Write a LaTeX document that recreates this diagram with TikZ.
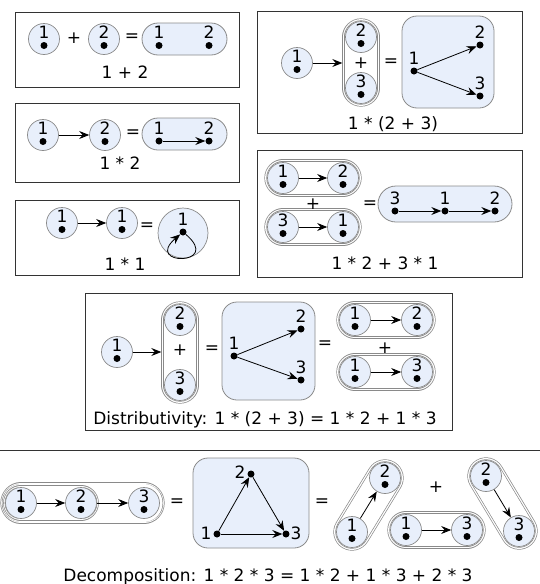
\documentclass[tikz,border=0pt]{standalone}
\usepackage{fontspec}
\setmainfont{DejaVu Sans}
\usetikzlibrary{arrows.meta,calc}
\pgfdeclarelayer{bg}
\pgfsetlayers{bg,main}
\definecolor{vfill}{HTML}{E8EFFB}
\definecolor{vline}{HTML}{8A8A8A}
\definecolor{frame}{HTML}{333333}
\newcommand{\myfs}{\fontsize{17}{20}\selectfont}
\tikzset{
 vc/.style={circle, draw=vline, fill=vfill, minimum size=31pt, inner sep=0pt, line width=0.7pt},
 dig/.style={inner sep=0pt, text height=12.4pt, text depth=0pt, font=\myfs},
 dotn/.style={circle, fill=black, minimum size=7pt, inner sep=0pt},
 arr/.style={-{Stealth[length=10pt,width=8pt,inset=3.5pt]}, line width=0.8pt},
 op/.style={inner sep=0pt, font=\myfs},
 capn/.style={inner sep=0pt, text height=12.4pt, text depth=0pt, font=\myfs},
 frm/.style={draw=frame, line width=1pt},
 bbox/.style={draw=vline, fill=vfill, line width=0.8pt, rounded corners=15pt},
}
\newcommand{\vx}[3]{%
 \node[vc] (#1) at (#2) {};
 \node[dig] (#1l) at ($(#1)+(0,-7)$) {#3};
 \node[dotn] (#1d) at ($(#1)+(0,6.5)$) {};
}
\newcommand{\dv}[3]{%
 \node[dotn] (#1) at (#2) {};
 \node[dig] (#1l) at ($(#1)+(0,-13)$) {#3};
}
\newcommand{\dpill}[4]{%
 \begin{pgfonlayer}{bg}
 \draw[line cap=round, vline, line width=2*#4pt+0.7pt] (#1) -- (#2);
 \draw[line cap=round, white, line width=2*#4pt-0.7pt] (#1) -- (#2);
 \draw[line cap=round, vline, line width=2*#3pt+0.7pt] (#1) -- (#2);
 \draw[line cap=round, white, line width=2*#3pt-0.7pt] (#1) -- (#2);
 \end{pgfonlayer}
}
\begin{document}
\begin{tikzpicture}[x=1pt,y=-1pt]
\useasboundingbox (0,0) rectangle (540,584);
% ---------- box 1: 1 + 2
\draw[frm] (15,12) rectangle (239,87);
\vx{a1}{44,39}{1}
\node[op] (aplus) at (74,38) {+};
\vx{a2}{104,39}{2}
\node[op] (aeq) at (132,38) {=};
\draw[bbox, rounded corners=16pt] (142,23) rectangle (227,55);
\dv{ad1}{159,45.5}{1}
\dv{ad2}{209,45.5}{2}
\node[capn] (acap) at (125,72) {1 + 2};
% ---------- box 2: 1 * 2
\draw[frm] (15,103) rectangle (239,182);
\vx{b1}{43,135}{1}
\vx{b2}{105,135}{2}
\draw[arr] (b1) -- (b2);
\node[op] (beq) at (133,134) {=};
\draw[bbox, rounded corners=16pt] (142,118) rectangle (227,150);
\dv{bd1}{159,141}{1}
\dv{bd2}{209,141}{2}
\draw[arr] (bd1) -- (bd2);
\node[capn] (bcap) at (120,163) {1 * 2};
% ---------- box 3: 1 * 1
\draw[frm] (15,200) rectangle (239,275);
\vx{c1}{62,223}{1}
\vx{c2}{122,223}{1}
\draw[arr] (c1) -- (c2);
\node[op] (ceq) at (147,227) {=};
\node[vc, minimum size=50pt] (cbig) at (183,233) {};
\node[dotn] (cd) at (183,232) {};
\node[dig] (cdl) at (183,219) {1};
\draw[arr] (cd) .. controls +(40,34) and +(-40,34) .. (cd);
\node[capn] (ccap) at (125,264) {1 * 1};
% ---------- box 4: 1 * (2 + 3)
\draw[frm] (257,11) rectangle (522,133);
\vx{d1}{297,63}{1}
\vx{d2}{361,37}{2}
\vx{d3}{361,88}{3}
\dpill{d2.center}{d3.center}{16.3}{18.3}
\node[op] (dplus) at (361,63) {+};
\coordinate (dL) at (342.3,63);
\draw[arr] (d1) -- (dL);
\node[op] (deq) at (391,63) {=};
\draw[bbox] (402,16) rectangle (494,108);
\dv{dd1}{414,71}{1}
\dv{dd2}{480,45}{2}
\dv{dd3}{480,96}{3}
\draw[arr] (dd1) -- (dd2);
\draw[arr] (dd1) -- (dd3);
\node[capn] (dcap) at (393,123) {1 * (2 + 3)};
% ---------- box 5: 1 * 2 + 3 * 1
\draw[frm] (257,150) rectangle (522,277);
\vx{e1}{283,178}{1}
\vx{e2}{343,178}{2}
\dpill{e1.center}{e2.center}{16.3}{18.3}
\draw[arr] (e1) -- (e2);
\node[op] (eplus) at (313,204) {+};
\vx{e3}{283,227}{3}
\vx{e4}{343,227}{1}
\dpill{e3.center}{e4.center}{16.3}{18.3}
\draw[arr] (e3) -- (e4);
\node[op] (eeq) at (370,205) {=};
\draw[bbox, rounded corners=18pt] (378,186) rectangle (512,222);
\dv{ed3}{395,211}{3}
\dv{ed1}{445,211}{1}
\dv{ed2}{495,211}{2}
\draw[arr] (ed3) -- (ed1);
\draw[arr] (ed1) -- (ed2);
\node[capn] (ecap) at (385,263) {1 * 2 + 3 * 1};
% ---------- box 6: distributivity
\draw[frm] (85,293) rectangle (452,430);
\vx{f1}{117,352}{1}
\vx{f2}{180,320}{2}
\vx{f3}{180,385}{3}
\dpill{f2.center}{f3.center}{16.3}{18.3}
\node[op] (fplus) at (180,350) {+};
\coordinate (fL) at (161.3,352);
\draw[arr] (f1) -- (fL);
\node[op] (feq) at (212,350) {=};
\draw[bbox] (222,302) rectangle (315,400);
\dv{fd1}{234,356}{1}
\dv{fd2}{301,329}{2}
\dv{fd3}{301,380}{3}
\draw[arr] (fd1) -- (fd2);
\draw[arr] (fd1) -- (fd3);
\node[op] (feqb) at (325,345) {=};
\vx{f4}{355,320}{1}
\vx{f5}{417,320}{2}
\dpill{f4.center}{f5.center}{16.3}{18.3}
\draw[arr] (f4) -- (f5);
\node[op] (fplusb) at (385,348) {+};
\vx{f6}{355,372}{1}
\vx{f7}{417,372}{3}
\dpill{f6.center}{f7.center}{16.3}{18.3}
\draw[arr] (f6) -- (f7);
\node[capn] (fcap) at (265,418) {Distributivity: 1 * (2 + 3) = 1 * 2 + 1 * 3};
% ---------- rule
\coordinate (rl) at (0,450); \coordinate (rr) at (540,450);
\draw[frm] (rl) -- (rr);
% ---------- decomposition
\vx{g1}{21,503}{1}
\vx{g2}{81,503}{2}
\vx{g3}{144,503}{3}
\dpill{g1.center}{g3.center}{18.9}{20.3}
\dpill{g1.center}{g2.center}{16.0}{17.5}
\draw[arr] (g1) -- (g2);
\draw[arr] (g2) -- (g3);
\node[op] (geq) at (177,503) {=};
\draw[bbox] (193,458) rectangle (309,548);
\node[dotn] (h2) at (251,474) {};
\node[dotn] (h1) at (217,534) {};
\node[dotn] (h3) at (286,534) {};
\node[dig] (h2l) at (240,472) {2};
\node[dig] (h1l) at (206,533) {1};
\node[dig] (h3l) at (296,533) {3};
\draw[arr] (h1) -- (h2);
\draw[arr] (h2) -- (h3);
\draw[arr] (h1) -- (h3);
\node[op] (geqb) at (322,503) {=};
\vx{i1}{352,532}{1}
\vx{i2}{385,478}{2}
\dpill{i1.center}{i2.center}{16.3}{18.3}
\draw[arr] (i1) -- (i2);
\node[op] (iplus) at (436,487) {+};
\vx{j1}{406,530}{1}
\vx{j2}{467,530}{3}
\dpill{j1.center}{j2.center}{16.3}{18.3}
\draw[arr] (j1) -- (j2);
\vx{k1}{486,476}{2}
\vx{k2}{519,531}{3}
\dpill{k1.center}{k2.center}{16.3}{18.3}
\draw[arr] (k1) -- (k2);
\node[capn] (gcap) at (268,575) {Decomposition: 1 * 2 * 3 = 1 * 2 + 1 * 3 + 2 * 3};
\end{tikzpicture}
\end{document}
